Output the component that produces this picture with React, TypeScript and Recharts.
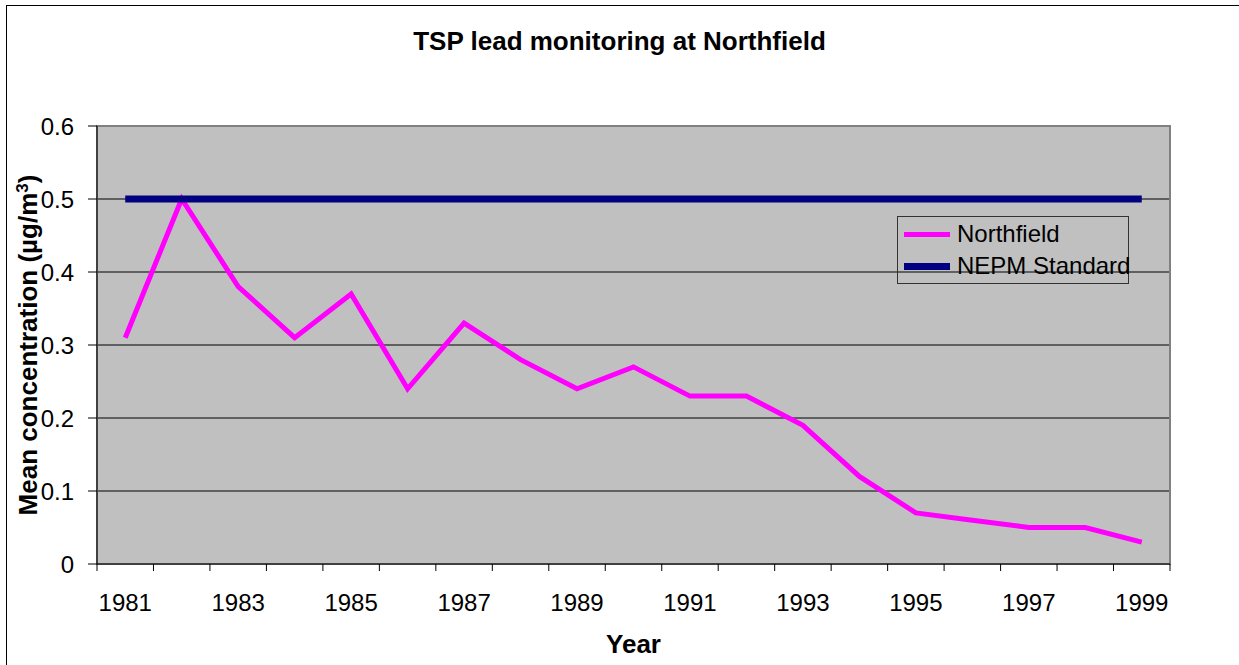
import { LineChart, Line, XAxis, YAxis, CartesianGrid, ReferenceArea, Label } from 'recharts'

const YEARS = [1981, 1982, 1983, 1984, 1985, 1986, 1987, 1988, 1989, 1990, 1991, 1992, 1993, 1994, 1995, 1996, 1997, 1998, 1999]
const NORTHFIELD = [0.31, 0.5, 0.38, 0.31, 0.37, 0.24, 0.33, 0.28, 0.24, 0.27, 0.23, 0.23, 0.19, 0.12, 0.07, 0.06, 0.05, 0.05, 0.03]
const NEPM_STANDARD = [0.5, 0.5, 0.5, 0.5, 0.5, 0.5, 0.5, 0.5, 0.5, 0.5, 0.5, 0.5, 0.5, 0.5, 0.5, 0.5, 0.5, 0.5, 0.5]
const Y_TICKS = [0, 0.1, 0.2, 0.3, 0.4, 0.5, 0.6]
const YEAR_LABELS = [1981, 1983, 1985, 1987, 1989, 1991, 1993, 1995, 1997, 1999]
const YEAR_BOUNDS = [...YEARS.map(y => y - 0.5), 1999.5]

const FONT = '"Liberation Sans", Arial, sans-serif'

const data = YEARS.map((year, i) => ({
  year,
  northfield: NORTHFIELD[i],
  nepm: NEPM_STANDARD[i],
}))

const XTick = (props: any) => {
  const { x, y, payload } = props
  const v = payload.value
  if (!Number.isInteger(v)) {
    return <line x1={x} x2={x} y1={y} y2={y + 7} stroke="#000" strokeWidth={1} />
  }
  return (
    <text x={x} y={y + 47} textAnchor="middle" fontSize={24} fontFamily={FONT} fill="#000">
      {v}
    </text>
  )
}

const YLabel = (props: any) => {
  const { viewBox } = props
  const cy = viewBox.y + viewBox.height / 2
  const cx = 37
  return (
    <text
      x={cx}
      y={cy}
      transform={`rotate(-90 ${cx} ${cy})`}
      textAnchor="middle"
      fontSize={26}
      fontWeight="bold"
      fontFamily={FONT}
      fill="#000"
    >
      Mean concentration (µg/m
      <tspan baselineShift="super" fontSize={17}>3</tspan>
      <tspan>)</tspan>
    </text>
  )
}

const LEGEND_ITEMS = [
  { name: 'Northfield', color: '#FF00FF', h: 5, top: 17 },
  { name: 'NEPM Standard', color: '#000080', h: 7, top: 49 },
]

const LegendBox = () => (
  <div
    style={{
      position: 'absolute',
      left: 897,
      top: 216,
      width: 232,
      height: 68,
      border: '1px solid #333',
      fontFamily: FONT,
      fontSize: 24,
      color: '#000',
      boxSizing: 'border-box',
    }}
  >
    {LEGEND_ITEMS.map(item => (
      <div
        key={item.name}
        style={{ position: 'absolute', left: 6, top: item.top - 15, height: 30, display: 'flex', alignItems: 'center', whiteSpace: 'nowrap' }}
      >
        <span style={{ display: 'inline-block', width: 46, height: item.h, background: item.color, marginRight: 7 }} />
        <span>{item.name}</span>
      </div>
    ))}
  </div>
)

export default function App() {
  return (
    <div style={{ position: 'absolute', left: 0, top: 0, width: 1239, height: 665, background: '#fff', overflow: 'hidden' }}>
      <div style={{ position: 'absolute', left: 6, top: 5, width: 1300, height: 700, borderLeft: '1px solid #000', borderTop: '1px solid #000' }} />
      <div
        style={{
          position: 'absolute',
          top: 26,
          left: 0,
          width: 1239,
          textAlign: 'center',
          fontFamily: FONT,
          fontWeight: 'bold',
          fontSize: 26,
        }}
      >
        TSP lead monitoring at Northfield
      </div>
      <div style={{ position: 'absolute', left: 0, top: 0 }}>
        <LineChart width={1239} height={665} data={data} margin={{ top: 126, right: 69, bottom: 0, left: 0 }}>
          <CartesianGrid vertical={false} stroke="#000" fill="#C0C0C0" />
          <XAxis
            dataKey="year"
            type="number"
            domain={[1980.5, 1999.5]}
            ticks={[...YEAR_BOUNDS, ...YEAR_LABELS]}
            interval={0}
            tickLine={false}
            tickSize={0}
            tickMargin={0}
            tick={<XTick />}
            axisLine={{ stroke: '#000' }}
            height={101}
          >
            <Label value="Year" position="insideBottom" offset={12} style={{ fontFamily: FONT, fontSize: 26, fontWeight: 'bold', fill: '#000' }} />
          </XAxis>
          <YAxis
            type="number"
            domain={[0, 0.6]}
            ticks={Y_TICKS}
            interval={0}
            width={97}
            tickSize={9}
            tickMargin={14}
            tickLine={{ stroke: '#000' }}
            axisLine={{ stroke: '#000' }}
            tick={{ fontFamily: FONT, fontSize: 24, fill: '#000' }}
            tickFormatter={v => String(v)}
          >
            <Label content={<YLabel />} />
          </YAxis>
          <ReferenceArea x1={1980.5} x2={1999.5} y1={0} y2={0.6} fill="none" stroke="#808080" strokeWidth={2} ifOverflow="visible" />
          <Line
            dataKey="northfield"
            name="Northfield"
            stroke="#FF00FF"
            strokeWidth={5}
            dot={false}
            strokeLinejoin="miter"
            isAnimationActive={false}
          />
          <Line
            dataKey="nepm"
            name="NEPM Standard"
            stroke="#000080"
            strokeWidth={7}
            dot={false}
            isAnimationActive={false}
          />
        </LineChart>
      </div>
      <LegendBox />
    </div>
  )
}
